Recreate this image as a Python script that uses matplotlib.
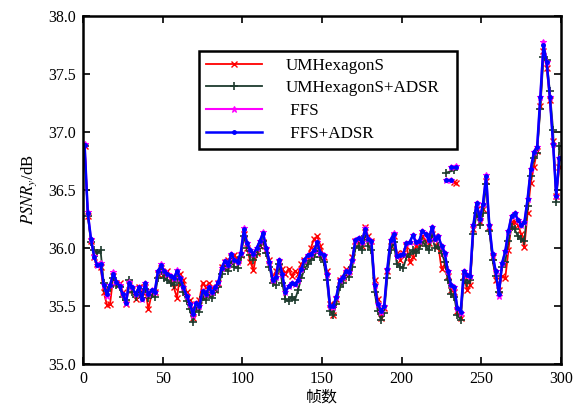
import numpy as np
import matplotlib
matplotlib.use("Agg")
import matplotlib.pyplot as plt

plt.rcParams["font.family"] = ["Liberation Serif", "DejaVu Serif"]
plt.rcParams["mathtext.fontset"] = "stix"

frames = list(range(1, 300, 2))

umhex = [
    36.88, 36.28, 36.06, 35.92, 35.86, 35.84, 35.62, 35.51, 35.52, 35.76,
    35.70, 35.70, 35.62, 35.52, 35.68, 35.64, 35.56, 35.66, 35.62, 35.66,
    35.47, 35.60, 35.62, 35.78, 35.83, 35.78, 35.80, 35.73, 35.66, 35.57,
    35.78, 35.72, 35.62, 35.55, 35.40, 35.52, 35.55, 35.70, 35.66, 35.70,
    35.66, 35.64, 35.70, 35.84, 35.88, 35.90, 35.92, 35.94, 35.90, 35.94,
    36.12, 36.00, 35.88, 35.81, 35.96, 36.02, 36.05, 35.98, 35.90, 35.74,
    35.80, 35.88, 35.82, 35.78, 35.82, 35.76, 35.80, 35.78, 35.86, 35.90,
    35.92, 36.00, 36.08, 36.10, 36.02, 35.92, 35.80, 35.52, 35.42, 35.56,
    35.72, 35.74, 35.82, 35.80, 35.92, 36.06, 36.06, 36.02, 36.18, 36.10,
    36.06, 35.72, 35.56, 35.40, 35.48, 35.80, 36.02, 36.10, 35.96, 35.90,
    35.96, 36.02, 35.88, 35.92, 36.02, 36.04, 36.10, 36.06, 36.04, 36.12,
    36.10, 36.02, 35.82, 35.86, 35.76, 35.64, 35.62, 35.46, 35.40, 35.76,
    35.64, 35.68, 36.16, 36.34, 36.22, 36.34, 36.58, 36.18, 35.92, 35.72,
    35.64, 35.76, 35.74, 35.98, 36.22, 36.22, 36.20, 36.12, 36.01, 36.30,
    36.56, 36.70, 36.84, 37.22, 37.70, 37.55, 37.28, 36.92, 36.45, 36.70,
]

umhex_adsr = [
    36.88, 36.28, 36.05, 35.98, 35.96, 35.98, 35.70, 35.63, 35.66, 35.74,
    35.68, 35.66, 35.58, 35.55, 35.72, 35.62, 35.58, 35.62, 35.57, 35.65,
    35.57, 35.60, 35.58, 35.74, 35.80, 35.74, 35.72, 35.70, 35.68, 35.74,
    35.70, 35.62, 35.54, 35.47, 35.36, 35.48, 35.45, 35.58, 35.55, 35.60,
    35.57, 35.62, 35.66, 35.78, 35.84, 35.80, 35.88, 35.84, 35.83, 35.92,
    36.10, 36.00, 35.94, 35.90, 35.95, 36.00, 36.06, 35.96, 35.84, 35.70,
    35.68, 35.86, 35.70, 35.56, 35.54, 35.58, 35.55, 35.64, 35.74, 35.82,
    35.86, 35.90, 35.92, 35.98, 35.92, 35.88, 35.72, 35.46, 35.42, 35.52,
    35.66, 35.70, 35.76, 35.75, 35.84, 36.00, 36.02, 35.98, 36.10, 36.02,
    35.98, 35.62, 35.46, 35.38, 35.44, 35.74, 35.98, 36.05, 35.86, 35.84,
    35.83, 35.92, 35.95, 35.98, 35.96, 35.99, 36.06, 36.02, 35.98, 36.10,
    36.00, 36.02, 35.96, 35.88, 35.72, 35.60, 35.58, 35.42, 35.38, 35.72,
    35.70, 35.72, 36.12, 36.30, 36.20, 36.30, 36.55, 36.15, 35.90, 35.76,
    35.62, 35.84, 35.88, 36.06, 36.18, 36.16, 36.10, 36.08, 36.06, 36.36,
    36.62, 36.78, 36.82, 37.20, 37.65, 37.62, 37.35, 37.02, 36.40, 36.88,
]

ffs = [
    36.90, 36.31, 36.08, 35.93, 35.85, 35.87, 35.68, 35.59, 35.68, 35.79,
    35.71, 35.68, 35.60, 35.53, 35.71, 35.66, 35.60, 35.66, 35.56, 35.70,
    35.60, 35.64, 35.62, 35.80, 35.86, 35.80, 35.78, 35.76, 35.74, 35.81,
    35.74, 35.66, 35.59, 35.52, 35.42, 35.53, 35.50, 35.63, 35.60, 35.66,
    35.62, 35.66, 35.71, 35.83, 35.89, 35.85, 35.95, 35.90, 35.88, 35.96,
    36.17, 36.04, 35.98, 35.95, 36.00, 36.06, 36.14, 36.00, 35.88, 35.72,
    35.75, 35.90, 35.78, 35.62, 35.67, 35.70, 35.69, 35.72, 35.82, 35.90,
    35.94, 35.95, 35.98, 36.05, 35.96, 35.94, 35.78, 35.50, 35.49, 35.58,
    35.72, 35.75, 35.80, 35.79, 35.90, 36.07, 36.09, 36.05, 36.17, 36.08,
    36.06, 35.68, 35.52, 35.45, 35.50, 35.82, 36.07, 36.13, 35.93, 35.94,
    35.95, 36.04, 36.05, 36.11, 36.05, 36.06, 36.15, 36.12, 36.07, 36.18,
    36.08, 36.10, 36.02, 35.96, 35.80, 35.68, 35.66, 35.48, 35.44, 35.80,
    35.77, 35.76, 36.20, 36.39, 36.25, 36.38, 36.63, 36.20, 35.95, 35.80,
    35.59, 35.87, 35.97, 36.15, 36.28, 36.30, 36.24, 36.20, 36.22, 36.42,
    36.68, 36.83, 36.87, 37.30, 37.78, 37.60, 37.30, 36.90, 36.45, 36.78,
]

ffs_adsr = [
    36.89, 36.30, 36.08, 35.92, 35.85, 35.86, 35.68, 35.60, 35.68, 35.78,
    35.71, 35.67, 35.60, 35.53, 35.70, 35.66, 35.60, 35.66, 35.56, 35.70,
    35.60, 35.64, 35.62, 35.80, 35.85, 35.80, 35.78, 35.76, 35.74, 35.80,
    35.74, 35.66, 35.59, 35.52, 35.43, 35.53, 35.50, 35.63, 35.60, 35.66,
    35.62, 35.66, 35.71, 35.83, 35.89, 35.85, 35.95, 35.90, 35.88, 35.96,
    36.16, 36.04, 35.98, 35.95, 36.00, 36.06, 36.13, 36.00, 35.88, 35.72,
    35.75, 35.90, 35.78, 35.62, 35.67, 35.70, 35.69, 35.72, 35.82, 35.90,
    35.94, 35.95, 35.98, 36.05, 35.96, 35.94, 35.78, 35.50, 35.50, 35.58,
    35.72, 35.75, 35.80, 35.79, 35.90, 36.07, 36.09, 36.05, 36.16, 36.08,
    36.06, 35.68, 35.52, 35.46, 35.50, 35.82, 36.07, 36.12, 35.93, 35.94,
    35.95, 36.04, 36.05, 36.11, 36.05, 36.06, 36.15, 36.12, 36.07, 36.18,
    36.08, 36.10, 36.02, 35.96, 35.80, 35.68, 35.66, 35.48, 35.45, 35.80,
    35.77, 35.76, 36.20, 36.39, 36.25, 36.38, 36.62, 36.20, 35.95, 35.80,
    35.60, 35.87, 35.97, 36.15, 36.28, 36.30, 36.24, 36.20, 36.22, 36.42,
    36.68, 36.83, 36.87, 37.30, 37.75, 37.60, 37.30, 36.90, 36.45, 36.78,
]

# short detached pieces near frame 230
stray_x_umhex = [233, 234]
stray_y_umhex = [36.57, 36.56]
stray_x_umhex_adsr = [228, 233]
stray_y_umhex_adsr = [36.65, 36.67]
stray_x_ffs = [228, 231, np.nan, 231, 234]
stray_y_ffs = [36.59, 36.59, np.nan, 36.70, 36.71]
stray_x_ffs_adsr = [228, 231, np.nan, 231, 234]
stray_y_ffs_adsr = [36.59, 36.59, np.nan, 36.70, 36.70]

labels = ["UMHexagonS", "UMHexagonS+ADSR", " FFS", " FFS+ADSR"]

fig = plt.figure(figsize=(5.85, 4.08), dpi=100)
ax = fig.add_axes([0.1419, 0.1078, 0.8171, 0.853])

styles = [
    dict(color="#ff0000", marker="x", markersize=4, lw=1.3, mew=1.0),
    dict(color="#1e3b2e", marker="+", markersize=6, lw=1.3, mew=1.2),
    dict(color="#ff00ff", marker="*", markersize=5, lw=1.5, mew=0.8),
    dict(color="#0000ff", marker=".", markersize=5, lw=1.8),
]
series = [umhex, umhex_adsr, ffs, ffs_adsr]
strays = [
    (stray_x_umhex, stray_y_umhex),
    (stray_x_umhex_adsr, stray_y_umhex_adsr),
    (stray_x_ffs, stray_y_ffs),
    (stray_x_ffs_adsr, stray_y_ffs_adsr),
]

for ys, (sx, sy), lab, st in zip(series, strays, labels, styles):
    ax.plot(frames, ys, label=lab, **st)
    ax.plot(sx, sy, **st)

ax.set_xlim(0, 300)
ax.set_ylim(35.0, 38.0)
ax.set_xticks(range(0, 301, 50))
ax.set_yticks(np.arange(35.0, 38.01, 0.5))
ax.yaxis.set_major_formatter(matplotlib.ticker.FormatStrFormatter("%.1f"))
ax.tick_params(direction="in", length=5, width=1.2, labelsize=11.5,
               top=True, right=True, pad=5)
for sp in ax.spines.values():
    sp.set_linewidth(1.8)

ax.set_xlabel("帧数", family=["Noto Sans CJK SC"], fontsize=11.5, labelpad=1)
ax.set_ylabel(r"$PSNR_{y}$/dB", fontsize=12, labelpad=7)

leg = ax.legend(loc="upper left", bbox_to_anchor=(0.243, 0.62, 0.54, 0.279),
                mode="expand", fontsize=12.3, handlelength=3.3,
                handletextpad=1.4, labelspacing=0.4, borderpad=0.38,
                fancybox=False, framealpha=1, edgecolor="black",
                numpoints=1, borderaxespad=0)
leg.get_frame().set_linewidth(1.8)

fig.savefig("out.png", dpi=100)
